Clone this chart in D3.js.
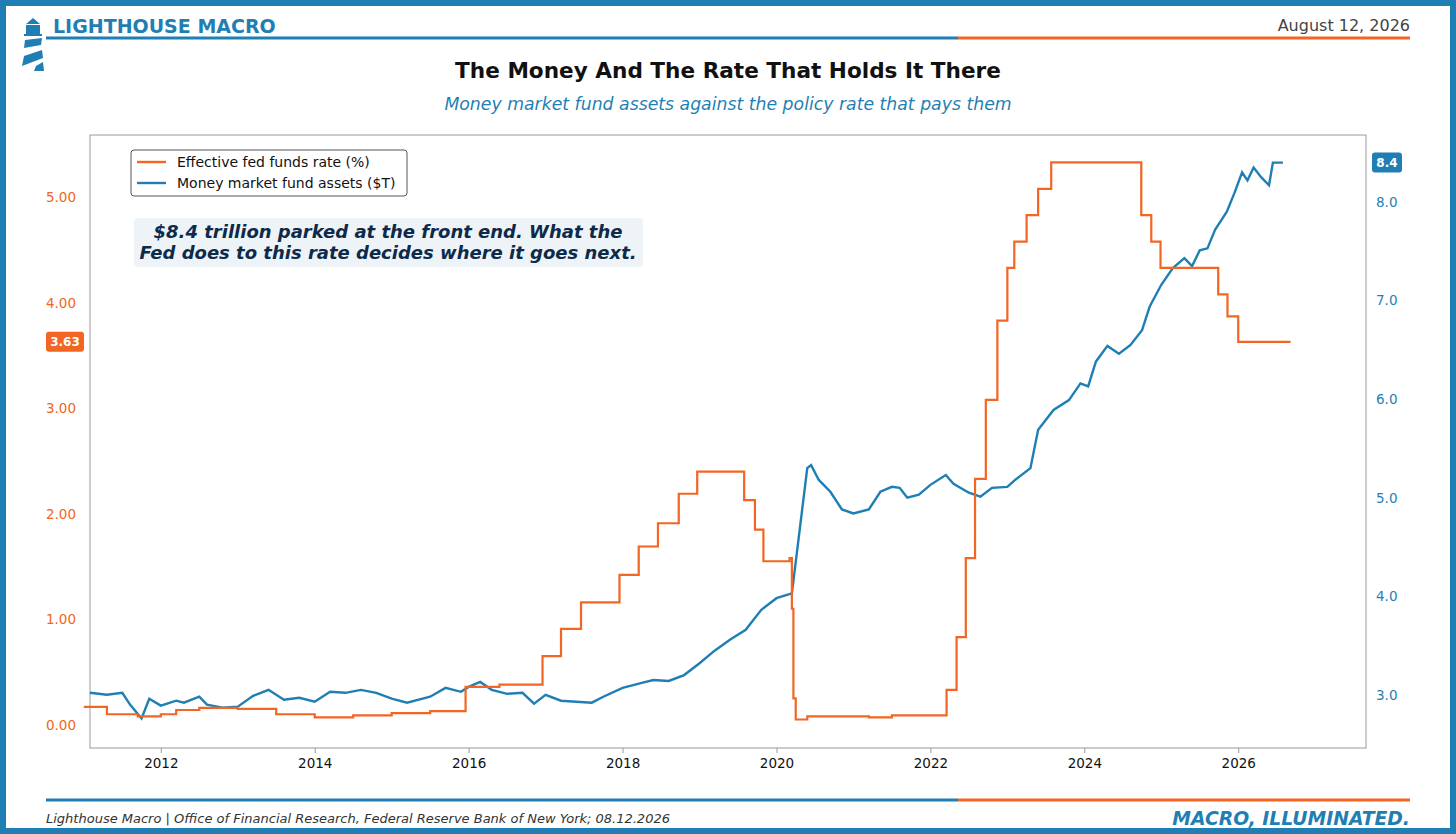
<!DOCTYPE html>
<html>
<head>
<meta charset="utf-8">
<title>The Money And The Rate That Holds It There</title>
<script src="https://cdn.jsdelivr.net/npm/d3@7"></script>
<style>
  body { margin: 0; background: #fff; font-family: "DejaVu Sans", sans-serif; }
  .tick text { font-size: 13.5px; font-family: "DejaVu Sans", sans-serif; }
</style>
</head>
<body>
<svg id="chart" width="1456" height="834"></svg>
<script>
// effective fed funds rate, step values (decimal year, %)
const effrDates = [2011.0, 2011.3, 2011.7, 2012.0, 2012.2, 2012.5, 2013.0, 2013.5, 2014.0, 2014.5, 2015.0, 2015.5,
  2015.96, 2016.4, 2016.96, 2017.2, 2017.46, 2017.96, 2018.21, 2018.46, 2018.73, 2018.97, 2019.58, 2019.72, 2019.83,
  2020.17, 2020.2, 2020.22, 2020.25, 2020.4, 2021.2, 2021.5, 2022.21, 2022.34, 2022.46, 2022.58, 2022.72, 2022.87,
  2023.0, 2023.09, 2023.25, 2023.4, 2023.57, 2024.74, 2024.87, 2024.99, 2025.74, 2025.86, 2026.0, 2026.68];
const effrVals = [0.17, 0.10, 0.08, 0.10, 0.14, 0.16, 0.15, 0.10, 0.07, 0.09, 0.11, 0.13,
  0.36, 0.38, 0.65, 0.91, 1.16, 1.42, 1.69, 1.91, 2.19, 2.40, 2.13, 1.85, 1.55,
  1.58, 1.10, 0.25, 0.05, 0.08, 0.07, 0.09, 0.33, 0.83, 1.58, 2.33, 3.08, 3.83,
  4.33, 4.58, 4.83, 5.08, 5.33, 4.83, 4.58, 4.33, 4.08, 3.87, 3.63, 3.63];

// money market fund assets ($T)
const mmfDates = [2011.08, 2011.3, 2011.5, 2011.6, 2011.75, 2011.85, 2012.0, 2012.2, 2012.3, 2012.5, 2012.6, 2012.8,
  2013.0, 2013.2, 2013.4, 2013.6, 2013.8, 2014.0, 2014.2, 2014.4, 2014.6, 2014.8, 2015.0, 2015.2, 2015.5, 2015.7,
  2015.9, 2016.0, 2016.15, 2016.3, 2016.5, 2016.7, 2016.85, 2017.0, 2017.2, 2017.4, 2017.6, 2017.75, 2018.0, 2018.25,
  2018.4, 2018.6, 2018.8, 2019.0, 2019.2, 2019.4, 2019.6, 2019.8, 2020.0, 2020.2, 2020.4, 2020.45, 2020.55, 2020.7,
  2020.85, 2021.0, 2021.2, 2021.35, 2021.5, 2021.6, 2021.7, 2021.85, 2022.0, 2022.2, 2022.3, 2022.5, 2022.65, 2022.8,
  2023.0, 2023.1, 2023.3, 2023.4, 2023.6, 2023.8, 2023.95, 2024.05, 2024.15, 2024.3, 2024.45, 2024.6, 2024.75, 2024.85,
  2025.0, 2025.15, 2025.3, 2025.4, 2025.5, 2025.6, 2025.7, 2025.85, 2025.95, 2026.05, 2026.12, 2026.2, 2026.3, 2026.4,
  2026.45, 2026.58];
const mmfVals = [3.02, 3.00, 3.02, 2.90, 2.76, 2.96, 2.89, 2.94, 2.92, 2.98, 2.90, 2.87,
  2.88, 2.99, 3.05, 2.95, 2.97, 2.93, 3.03, 3.02, 3.05, 3.02, 2.96, 2.92, 2.98, 3.07,
  3.03, 3.08, 3.13, 3.05, 3.01, 3.02, 2.91, 3.00, 2.94, 2.93, 2.92, 2.98, 3.07, 3.12,
  3.15, 3.14, 3.20, 3.32, 3.45, 3.56, 3.66, 3.86, 3.98, 4.03, 5.30, 5.33, 5.18, 5.06,
  4.88, 4.84, 4.88, 5.06, 5.11, 5.10, 5.00, 5.03, 5.13, 5.23, 5.14, 5.05, 5.01, 5.10,
  5.11, 5.18, 5.30, 5.69, 5.89, 5.99, 6.16, 6.13, 6.38, 6.54, 6.46, 6.55, 6.70, 6.94,
  7.16, 7.33, 7.43, 7.35, 7.51, 7.53, 7.72, 7.90, 8.09, 8.30, 8.22, 8.35, 8.25, 8.17,
  8.40, 8.40];

const xTicks = [2012, 2014, 2016, 2018, 2020, 2022, 2024, 2026];
const leftTicks = [0, 1, 2, 3, 4, 5];
const rightTicks = [3, 4, 5, 6, 7, 8];

const ORANGE = "#f26522", BLUE = "#1f7fb4";
const svg = d3.select("#chart");
const W = 1456, H = 834;
const m = { l: 90, r: 1366, t: 135, b: 748 };

// frame
svg.append("rect").attr("x", 3).attr("y", 3).attr("width", W - 6).attr("height", H - 6)
  .attr("fill", "none").attr("stroke", BLUE).attr("stroke-width", 6);

// header
const logo = svg.append("g").attr("fill", BLUE);
logo.append("path").attr("d", "M26,24 L33,18 L40,24 Z");
logo.append("rect").attr("x", 26).attr("y", 25).attr("width", 14).attr("height", 9);
logo.append("rect").attr("x", 24).attr("y", 34).attr("width", 18).attr("height", 2);
logo.append("path").attr("d", "M25,40 L42,38 L41,45 L24,48 Z");
logo.append("path").attr("d", "M24,56 L42,50 L43,58 L22,66 Z");
logo.append("path").attr("d", "M36,66 L43,62 L44,71 L34,71 Z");
svg.append("text").attr("x", 53).attr("y", 33).attr("fill", BLUE)
  .attr("font-size", 19).attr("font-weight", "bold").text("LIGHTHOUSE MACRO");
svg.append("text").attr("x", 1410).attr("y", 31).attr("text-anchor", "end").attr("fill", "#444")
  .attr("font-size", 16).text("August 12, 2026");
[38, 800].forEach(y => {
  svg.append("rect").attr("x", 46).attr("y", y - 1.5).attr("width", 912).attr("height", 3).attr("fill", BLUE);
  svg.append("rect").attr("x", 958).attr("y", y - 1.5).attr("width", 452).attr("height", 3).attr("fill", ORANGE);
});
svg.append("text").attr("x", 728).attr("y", 78).attr("text-anchor", "middle").attr("fill", "#111")
  .attr("font-size", 21.6).attr("font-weight", "bold").text("The Money And The Rate That Holds It There");
svg.append("text").attr("x", 728).attr("y", 110).attr("text-anchor", "middle").attr("fill", BLUE)
  .attr("font-size", 17.3).attr("font-style", "italic").text("Money market fund assets against the policy rate that pays them");

// footer
svg.append("text").attr("x", 46).attr("y", 823).attr("fill", "#333").attr("font-size", 13)
  .attr("font-style", "italic").text("Lighthouse Macro | Office of Financial Research, Federal Reserve Bank of New York; 08.12.2026");
svg.append("text").attr("x", 1410).attr("y", 825).attr("text-anchor", "end").attr("fill", BLUE)
  .attr("font-size", 18.8).attr("font-weight", "bold").attr("font-style", "italic").text("MACRO, ILLUMINATED.");

// scales
const x = d3.scaleLinear().domain([2011.08, 2027.66]).range([m.l, m.r]);
const yL = d3.scaleLinear().domain([-0.22, 5.59]).range([m.b, m.t]);
const yR = d3.scaleLinear().domain([2.46, 8.68]).range([m.b, m.t]);

svg.append("rect").attr("x", m.l).attr("y", m.t).attr("width", m.r - m.l).attr("height", m.b - m.t)
  .attr("fill", "none").attr("stroke", "#999").attr("stroke-width", 1);

const gx = svg.append("g").attr("transform", `translate(0,${m.b})`)
  .call(d3.axisBottom(x).tickValues(xTicks).tickFormat(d3.format("d")).tickSize(5));
gx.selectAll("text").attr("fill", "#111").attr("dy", "0.9em");
const gl = svg.append("g").attr("transform", `translate(${m.l},0)`)
  .call(d3.axisLeft(yL).tickValues(leftTicks).tickFormat(d3.format(".2f")).tickSize(0).tickPadding(14));
gl.selectAll("text").attr("fill", ORANGE);
const gr = svg.append("g").attr("transform", `translate(${m.r},0)`)
  .call(d3.axisRight(yR).tickValues(rightTicks).tickFormat(d3.format(".1f")).tickSize(0).tickPadding(10));
gr.selectAll("text").attr("fill", BLUE);
svg.selectAll(".domain").remove();
gx.selectAll("line").attr("stroke", "#999");

// lines
const effr = effrDates.map((d, i) => [d, effrVals[i]]);
const mmf = mmfDates.map((d, i) => [d, mmfVals[i]]);
svg.append("path").datum(mmf).attr("fill", "none").attr("stroke", BLUE).attr("stroke-width", 2.4)
  .attr("d", d3.line().x(d => x(d[0])).y(d => yR(d[1])));
svg.append("path").datum(effr).attr("fill", "none").attr("stroke", ORANGE).attr("stroke-width", 2.2)
  .attr("d", d3.line().curve(d3.curveStepAfter).x(d => x(d[0])).y(d => yL(d[1])));

// last-value tags
function tag(cx, cy, txt, col, w) {
  svg.append("rect").attr("x", cx - w / 2).attr("y", cy - 10).attr("width", w).attr("height", 20)
    .attr("rx", 3).attr("fill", col);
  svg.append("text").attr("x", cx).attr("y", cy + 4.5).attr("text-anchor", "middle").attr("fill", "#fff")
    .attr("font-size", 12).attr("font-weight", "bold").text(txt);
}
tag(65, yL(effrVals[effrVals.length - 1]), "3.63", ORANGE, 38);
tag(1387, yR(mmfVals[mmfVals.length - 1]), "8.4", BLUE, 30);

// legend
const lg = svg.append("g");
lg.append("rect").attr("x", 131).attr("y", 150).attr("width", 276).attr("height", 46).attr("rx", 3)
  .attr("fill", "#fff").attr("stroke", "#555");
[["Effective fed funds rate (%)", ORANGE], ["Money market fund assets ($T)", BLUE]].forEach((d, i) => {
  const y = 162 + i * 21;
  lg.append("line").attr("x1", 137).attr("x2", 166).attr("y1", y).attr("y2", y)
    .attr("stroke", d[1]).attr("stroke-width", 2.4);
  lg.append("text").attr("x", 177).attr("y", y + 5).attr("font-size", 14).attr("fill", "#111").text(d[0]);
});

// annotation
svg.append("rect").attr("x", 134).attr("y", 218).attr("width", 509).attr("height", 49).attr("rx", 4)
  .attr("fill", "#eef3f8");
["$8.4 trillion parked at the front end. What the", "Fed does to this rate decides where it goes next."]
  .forEach((t, i) => svg.append("text").attr("x", 388).attr("y", 238 + i * 21).attr("text-anchor", "middle")
    .attr("fill", "#0d2a4a").attr("font-size", 18).attr("font-weight", "bold").attr("font-style", "italic").text(t));
</script>
</body>
</html>
